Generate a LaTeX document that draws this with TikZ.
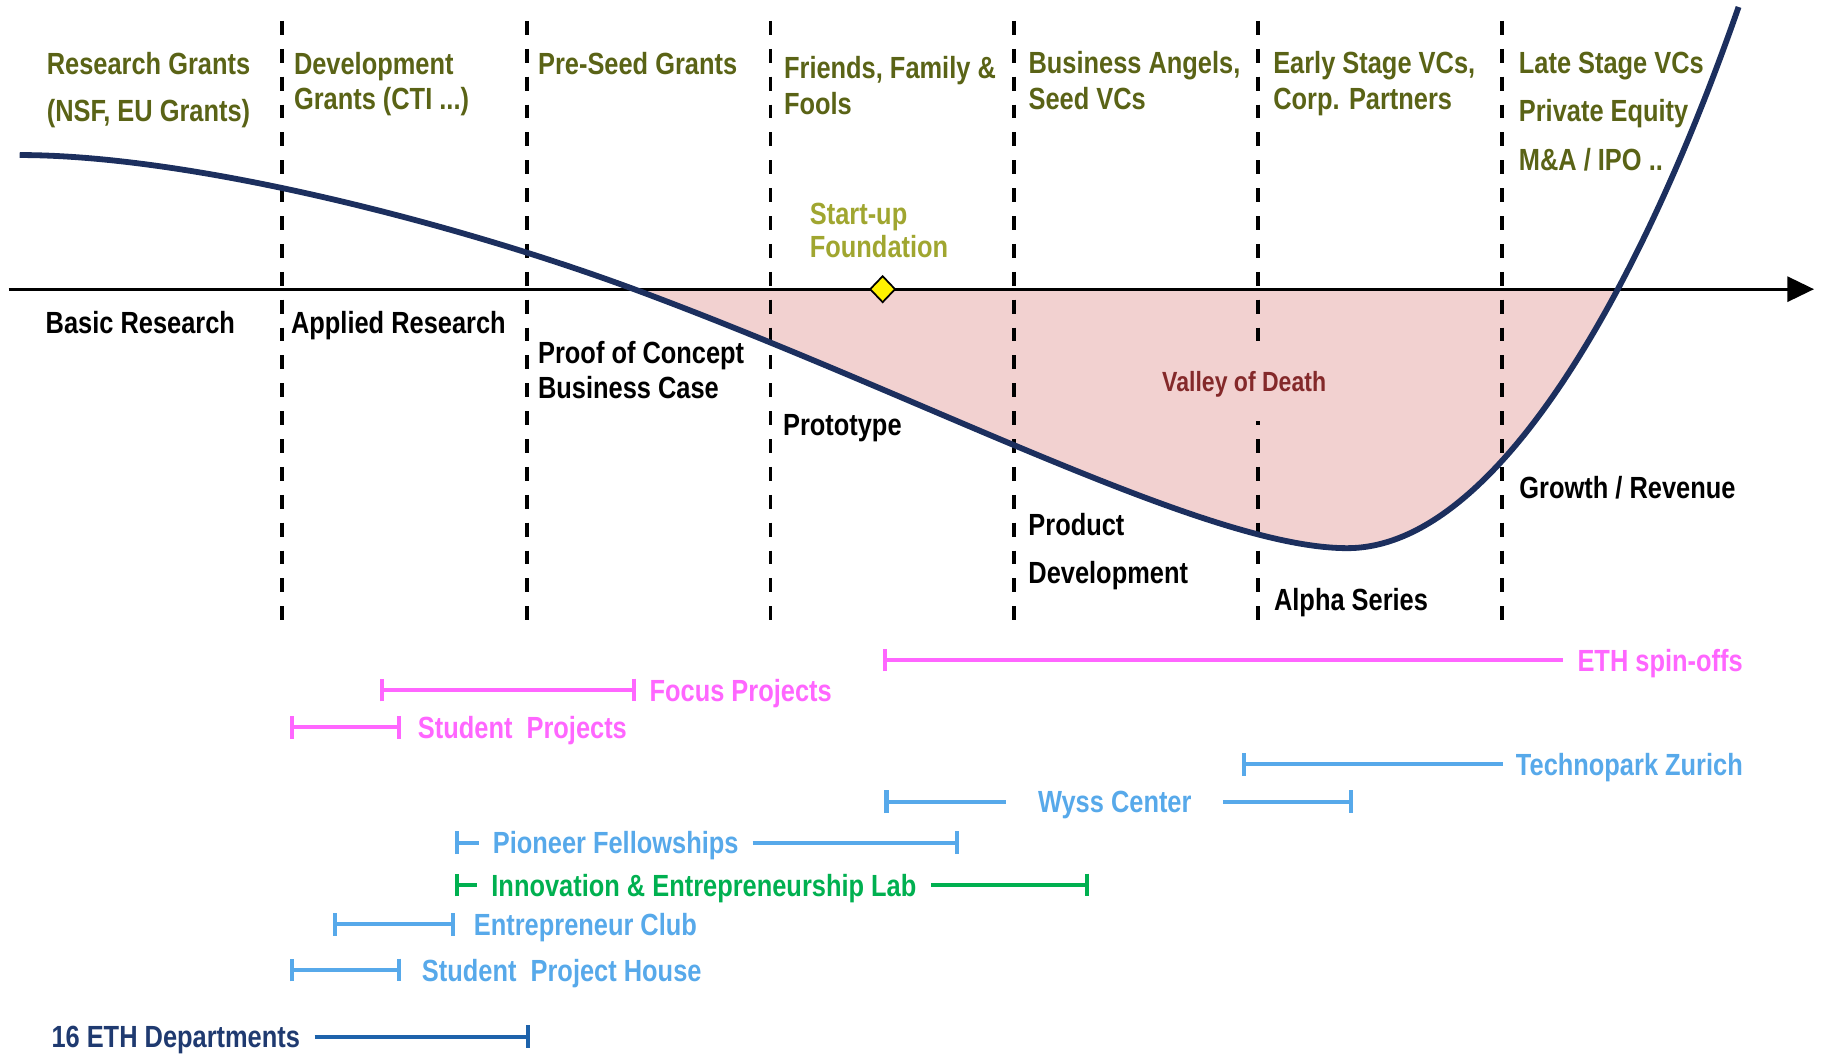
\documentclass[tikz,border=0pt]{standalone}
\usepackage{fontspec}
\newfontfamily\chartfont{Liberation Sans}[FakeStretch=0.83]
\usetikzlibrary{arrows.meta}
\usetikzlibrary{shapes.geometric}

\definecolor{grantcol}{HTML}{5A6316}
\definecolor{foundcol}{HTML}{A0A630}
\definecolor{deathcol}{HTML}{84292A}
\definecolor{valleycol}{HTML}{F2D1D0}
\definecolor{curvecol}{HTML}{1C2F5E}
\definecolor{spincol}{HTML}{FF66FF}
\definecolor{partcol}{HTML}{57A9EA}
\definecolor{labcol}{HTML}{00B050}
\definecolor{deptcol}{HTML}{1F3A70}
\definecolor{deptbar}{HTML}{1E63AB}

\tikzset{
  endbar/.tip={Bar[width=3.9mm]},
  lbl/.style={anchor=base west, inner sep=0pt, font=\chartfont\bfseries\fontsize{15}{18}\selectfont},
  grant/.style={lbl, text=grantcol},
  stage/.style={lbl, text=black},
  divider/.style={line width=0.65mm, dash pattern=on 2.4mm off 2.4mm},
  axisline/.style={line width=0.55mm, -{Triangle[length=4.6mm,width=4.3mm]}},
  valleyline/.style={line width=1mm, draw=curvecol},
  runbar/.style={line width=0.7mm},
}

\begin{document}
\begin{tikzpicture}[x=0.2mm,y=-0.2mm]
  \useasboundingbox (0,0) rectangle (1568,907);

  % valley curve
  \path[save path=\vcurve] (17,133.5) .. controls (167,133.5) and (396,193.5) .. (546,249)
    .. controls (796,341.5) and (1040,472) .. (1160,472)
    .. controls (1290,472) and (1415,242) .. (1497,6);
  \begin{scope}
    \clip (0,249) rectangle (1568,700);
    \fill[valleycol, use path=\vcurve];
  \end{scope}

  % stage dividers
  \foreach \x in {243,453.5,663.5,873,1083,1293}
    \draw[divider] (\x,18) -- (\x,536);

  \coordinate (axL) at (7.5,249);
  \coordinate (axR) at (1562,249);
  \draw[axisline] (axL) -- (axR);
  \draw[valleyline, use path=\vcurve];

  \node[diamond, draw=black, line width=0.3mm, fill=yellow, inner sep=0pt,
        minimum width=4.4mm, minimum height=4.6mm] (found) at (760,249) {};

  % funding
  \node[grant] (resA) at (40,64.5) {Research Grants};
  \node[grant] (resB) at (40,105) {(NSF, EU Grants)};
  \node[grant] (devA) at (252.8,64.5) {Development};
  \node[grant] (devB) at (252.8,94.7) {Grants (CTI ...)};
  \node[grant] (pre) at (463,64.5) {Pre-Seed Grants};
  \node[grant] (ffA) at (674.8,67.5) {Friends, Family \&};
  \node[grant] (ffB) at (674.8,98.4) {Fools};
  \node[grant] (angA) at (885.3,63.7) {Business Angels,};
  \node[grant] (angB) at (885.3,94) {Seed VCs};
  \node[grant] (earlyA) at (1096,63.7) {Early Stage VCs,};
  \node[grant] (earlyB) at (1096,94) {Corp. Partners};
  \node[grant] (lateA) at (1307.5,63.7) {Late Stage VCs};
  \node[grant] (lateB) at (1307.5,104.8) {Private Equity};
  \node[grant] (lateC) at (1307.5,146.4) {M\&A / IPO ..};

  \node[lbl, text=foundcol] (startA) at (697,193.7) {Start-up};
  \node[lbl, text=foundcol] (startB) at (697,221.6) {Foundation};

  % stages
  \node[stage] (basic) at (39,287) {Basic Research};
  \node[stage] (applied) at (250.3,287) {Applied Research};
  \node[stage] (pocA) at (463,312.8) {Proof of Concept};
  \node[stage] (pocB) at (463,343) {Business Case};
  \node[stage] (proto) at (673.9,374.6) {Prototype};
  \node[stage] (prodA) at (885.2,460.7) {Product};
  \node[stage] (prodB) at (885.2,502) {Development};
  \node[stage] (alpha) at (1096.7,525.3) {Alpha Series};
  \node[stage] (growth) at (1308,429) {Growth / Revenue};

  \node[lbl, anchor=base, text=deathcol, fill=valleycol, font=\chartfont\bfseries\fontsize{13.6}{16}\selectfont,
        text height=8.6mm, text depth=5mm] (death) at (1071.3,337.2) {Valley of Death};

  % support programmes
  \coordinate (spinL) at (760,568.3);      \coordinate (spinR) at (1346,568.3);
  \coordinate (focusL) at (326.8,594.1);   \coordinate (focusR) at (547.3,594.1);
  \coordinate (stprojL) at (249.5,626.3);  \coordinate (stprojR) at (345.5,626.3);
  \coordinate (technoL) at (1069,658.1);   \coordinate (technoR) at (1294,658.1);
  \coordinate (wyssL) at (761.6,690.3);    \coordinate (wyssM) at (866,690.3);
  \coordinate (wyssN) at (1053,690.3);     \coordinate (wyssR) at (1165,690.3);
  \coordinate (pionL) at (392,725.6);      \coordinate (pionM) at (412.6,725.6);
  \coordinate (pionN) at (648,725.6);      \coordinate (pionR) at (825.7,725.6);
  \coordinate (labL) at (392,762);         \coordinate (labM) at (410.6,762);
  \coordinate (labN) at (802,762);         \coordinate (labR) at (938,762);
  \coordinate (clubL) at (287,795.9);      \coordinate (clubR) at (392,795.9);
  \coordinate (houseL) at (249.5,835.2);   \coordinate (houseR) at (345.5,835.2);
  \coordinate (deptL) at (271,892.6);      \coordinate (deptR) at (456,892.6);

  \draw[runbar, spincol, endbar-] (spinL) -- (spinR);
  \draw[runbar, spincol, endbar-endbar] (focusL) -- (focusR);
  \draw[runbar, spincol, endbar-endbar] (stprojL) -- (stprojR);
  \draw[runbar, partcol, endbar-] (technoL) -- (technoR);
  \draw[runbar, partcol, endbar-] (wyssL) -- (wyssM);
  \draw[runbar, partcol, -endbar] (wyssN) -- (wyssR);
  \draw[runbar, partcol, endbar-] (pionL) -- (pionM);
  \draw[runbar, partcol, -endbar] (pionN) -- (pionR);
  \draw[runbar, labcol, endbar-] (labL) -- (labM);
  \draw[runbar, labcol, -endbar] (labN) -- (labR);
  \draw[runbar, partcol, endbar-endbar] (clubL) -- (clubR);
  \draw[runbar, partcol, endbar-endbar] (houseL) -- (houseR);
  \draw[runbar, deptbar, -endbar] (deptL) -- (deptR);

  \node[lbl, text=spincol] (spin) at (1358,577.8) {ETH spin-offs};
  \node[lbl, text=spincol] (focus) at (559,603.6) {Focus Projects};
  \node[lbl, text=spincol] (stproj) at (359.5,635.8) {Student\ \ Projects};
  \node[lbl, text=partcol] (techno) at (1305,667.6) {Technopark Zurich};
  \node[lbl, text=partcol] (wyss) at (893.5,699.8) {Wyss Center};
  \node[lbl, text=partcol] (pioneer) at (424,735.1) {Pioneer Fellowships};
  \node[lbl, text=labcol] (lab) at (422.8,771.5) {Innovation \& Entrepreneurship Lab};
  \node[lbl, text=partcol] (club) at (407.7,805.4) {Entrepreneur Club};
  \node[lbl, text=partcol] (house) at (363,844.7) {Student\ \ Project House};
  \node[lbl, text=deptcol] (dept) at (44,902.1) {16 ETH Departments};
\end{tikzpicture}
\end{document}
